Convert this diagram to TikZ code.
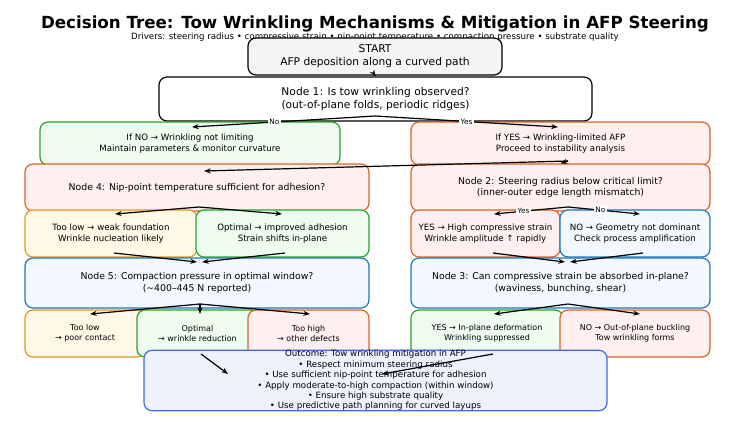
\documentclass[tikz,border=0pt]{standalone}
\usepackage{fontspec}
\setmainfont{DejaVu Sans}
\usetikzlibrary{arrows.meta}
\definecolor{gB}{HTML}{2CA02C}\definecolor{gF}{HTML}{EEFCEF}
\definecolor{rB}{HTML}{D9622B}\definecolor{rF}{HTML}{FDF0EE}
\definecolor{oB}{HTML}{E09A1A}\definecolor{oF}{HTML}{FFF8E6}
\definecolor{bB}{HTML}{1F77B4}\definecolor{bF}{HTML}{F3F8FE}
\definecolor{cB}{HTML}{4169E1}\definecolor{cF}{HTML}{EEF2FC}
\begin{document}
\begin{tikzpicture}[x=0.75pt,y=-0.75pt,
 box/.style={draw,rounded corners=6pt,line width=0.9pt,align=center,inner sep=0pt},
 g/.style={box,draw=gB,fill=gF}, r/.style={box,draw=rB,fill=rF},
 o/.style={box,draw=oB,fill=oF}, b/.style={box,draw=bB,fill=bF},
 arr/.style={-{Stealth[length=5pt]},line width=0.9pt},
 lab/.style={fill=white,inner sep=1pt,font=\fontsize{5.5}{6}\selectfont}]
\useasboundingbox (0,0) rectangle (750,425);
\newcommand{\bx}[6]{\node[#1,minimum width={(#4-#2)*0.75pt},minimum height={(#5-#3)*0.75pt},font=\fontsize{#6}{#6}\linespread{1.2}\selectfont] at ({(#2+#4)/2},{(#3+#5)/2})}
\node[font=\bfseries\fontsize{12.5}{14}\selectfont] (title) at (375,24) {Decision Tree: Tow Wrinkling Mechanisms \& Mitigation in AFP Steering};
\node[font=\fontsize{6.5}{8}\selectfont] (sub) at (375,37) {Drivers: steering radius • compressive strain • nip-point temperature • compaction pressure • substrate quality};
\bx{box,fill=black!4}{248}{38}{502}{75}{8} (start) {START\\AFP deposition along a curved path};
\bx{box,fill=white}{159}{77}{592}{121}{8} (n1) {Node 1: Is tow wrinkling observed?\\(out-of-plane folds, periodic ridges)};
\bx{g}{40}{122}{340}{165}{6.5} (no) {If NO → Wrinkling not limiting\\Maintain parameters \& monitor curvature};
\bx{r}{411}{122}{710}{165}{6.5} (yes) {If YES → Wrinkling-limited AFP\\Proceed to instability analysis};
\bx{r}{25}{164}{369}{211}{7} (n4) {Node 4: Nip-point temperature sufficient for adhesion?};
\bx{r}{411}{164}{710}{211}{7} (n2) {Node 2: Steering radius below critical limit?\\(inner-outer edge length mismatch)};
\bx{o}{25}{210}{197}{257}{6.5} (tl) {Too low → weak foundation\\Wrinkle nucleation likely};
\bx{g}{196}{210}{369}{257}{6.5} (op) {Optimal → improved adhesion\\Strain shifts in-plane};
\bx{r}{411}{210}{560}{257}{6.5} (hs) {YES → High compressive strain\\Wrinkle amplitude ↑ rapidly};
\bx{b}{560}{210}{710}{257}{6.5} (gd) {NO → Geometry not dominant\\Check process amplification};
\bx{b}{25}{258}{369}{308}{7} (n5) {Node 5: Compaction pressure in optimal window?\\(\textasciitilde400–445 N reported)};
\bx{b}{411}{258}{710}{308}{7} (n3) {Node 3: Can compressive strain be absorbed in-plane?\\(waviness, bunching, shear)};
\bx{o}{25}{310}{145}{357}{6} (tl2) {Too low\\→ poor contact};
\bx{g}{137}{310}{258}{357}{6} (op2) {Optimal\\→ wrinkle reduction};
\bx{r}{248}{310}{369}{357}{6} (th) {Too high\\→ other defects};
\bx{g}{411}{310}{563}{357}{6} (ip) {YES → In-plane deformation\\Wrinkling suppressed};
\bx{r}{560}{310}{710}{357}{6} (oop) {NO → Out-of-plane buckling\\Tow wrinkling forms};
\bx{box,draw=cB,fill=cF}{144}{353}{607}{408}{6.5} (out) {Outcome: Tow wrinkling mitigation in AFP\\• Respect minimum steering radius\\• Use sufficient nip-point temperature for adhesion\\• Apply moderate-to-high compaction (within window)\\• Ensure high substrate quality\\• Use predictive path planning for curved layups};
\coordinate (s1) at (375,116); \coordinate (s2) at (568,161);
\coordinate (s4) at (199,207); \coordinate (s2b) at (568,207);
\coordinate (s5) at (200,304); \coordinate (s3) at (568,304);
\draw[arr] (start.south) -- (n1.north);
\draw[arr] (s1) -- node[lab,pos=0.55]{No} (192,127);
\draw[arr] (s1) -- node[lab,pos=0.5]{Yes} (558,127);
\draw[arr] (s2) -- (n2.north);
\draw[arr] (s2) -- (204,171);
\draw[arr] (s4) -- (115,214);
\draw[arr] (s4) -- (282,214);
\draw[arr] (s2b) -- node[lab,pos=0.6]{Yes} (494,214);
\draw[arr] (s2b) -- node[lab,pos=0.45]{No} (640,214);
\draw[arr] (114,253) -- (197,262);
\draw[arr] (285,253) -- (202,262);
\draw[arr] (493,253) -- (565,262);
\draw[arr] (643,253) -- (570,262);
\draw[arr] (s5) -- (90,314);
\draw[arr] (s5) -- (200,314);
\draw[arr] (s5) -- (310,314);
\draw[arr] (s3) -- (494,314);
\draw[arr] (s3) -- (640,314);
\draw[arr] (201,354) -- (228,374);
\draw[arr] (493,354) -- (382,374);
\end{tikzpicture}
\end{document}
